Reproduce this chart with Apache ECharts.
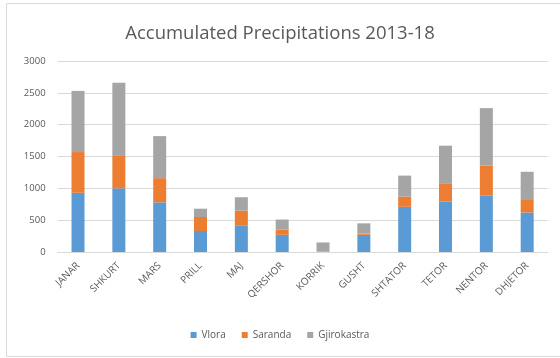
<!DOCTYPE html>
<html><head><meta charset="utf-8">
<script src="https://cdn.jsdelivr.net/npm/echarts@6/dist/echarts.min.js"></script>
<style>html,body{margin:0;padding:0;background:#fff}#c{width:560px;height:358px}</style>
</head><body><div id="c"></div>
<script>
const categories = ['JANAR','SHKURT','MARS','PRILL','MAJ','QERSHOR','KORRIK','GUSHT','SHTATOR','TETOR','NENTOR','DHJETOR'];
const vlora = [930, 1000, 780, 330, 420, 270, 5, 270, 710, 790, 890, 620];
const saranda = [640, 520, 380, 220, 230, 80, 5, 20, 160, 290, 470, 210];
const gjirokastra = [960, 1140, 660, 130, 210, 160, 140, 160, 330, 590, 900, 430];
const yTicks = [0, 500, 1000, 1500, 2000, 2500, 3000];

const font = 'Open Sans';
const chart = echarts.init(document.getElementById('c'), null, {renderer:'canvas'});
const mk = (name, data, color) => ({
  name, type:'bar', stack:'total', data, barWidth:13,
  itemStyle:{color}, emphasis:{disabled:true}
});
chart.setOption({
  animation:false,
  textStyle:{fontFamily:font},
  graphic:[{type:'rect', shape:{x:6.5,y:3.5,width:560,height:353}, style:{fill:'none',stroke:'#d9d9d9',lineWidth:1}, silent:true}],
  title:{text:'Accumulated Precipitations 2013-18', left:'center', top:19,
    textStyle:{fontFamily:font,fontSize:18.5,fontWeight:'normal',color:'#595959'}},
  legend:{bottom:13, left:'center', itemWidth:6, itemHeight:6, itemGap:16, icon:'rect',
    textStyle:{fontFamily:font,fontSize:10,color:'#595959'},
    data:['Vlora','Saranda','Gjirokastra']},
  grid:{left:57.6, right:12.4, top:61, bottom:106},
  xAxis:{type:'category', data:categories,
    axisLine:{lineStyle:{color:'#d9d9d9'}}, axisTick:{show:false},
    axisLabel:{rotate:45, fontSize:10, color:'#595959', interval:0, margin:12}},
  yAxis:{type:'value', min:yTicks[0], max:yTicks[yTicks.length-1], interval:500,
    axisLine:{show:false}, axisTick:{show:false},
    splitLine:{lineStyle:{color:'#d9d9d9'}},
    axisLabel:{fontSize:9.5, color:'#595959', margin:12, formatter:v=>String(v)}},
  series:[mk('Vlora',vlora,'#5B9BD5'), mk('Saranda',saranda,'#ED7D31'), mk('Gjirokastra',gjirokastra,'#A5A5A5')]
});
</script></body></html>
